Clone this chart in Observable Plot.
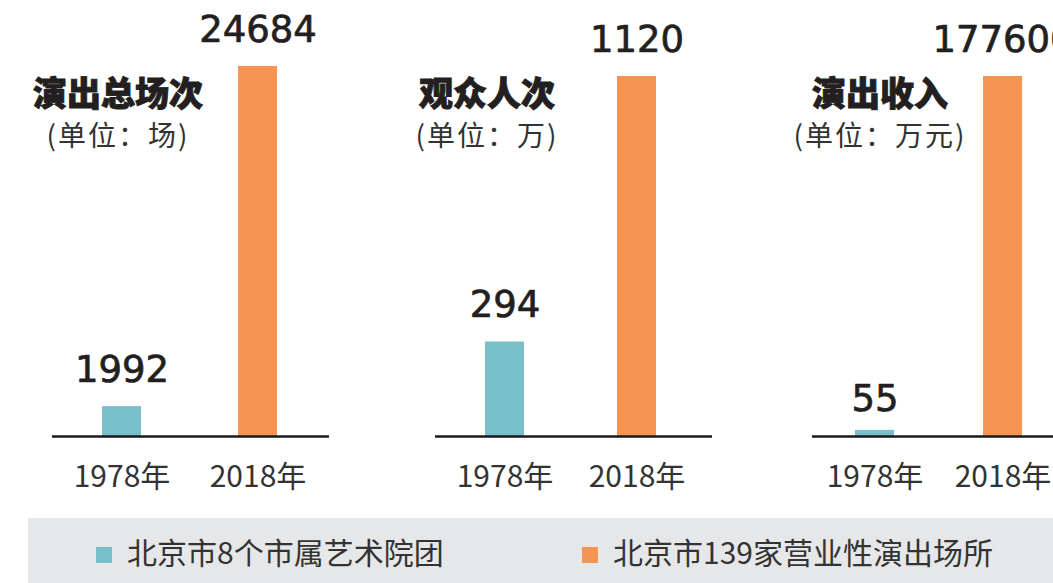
<!DOCTYPE html>
<html>
<head>
<meta charset="utf-8">
<script src="https://cdn.jsdelivr.net/npm/d3@7"></script>
<script src="https://cdn.jsdelivr.net/npm/@observablehq/plot@0.6"></script>
<style>
  html, body { margin: 0; padding: 0; background: #fff; }
  #wrap { position: relative; width: 1053px; height: 583px; overflow: hidden; background: #fff; }
  .panel { position: absolute; top: 0; }
  .title { position: absolute; width: 260px; text-align: center; font-family: "Noto Sans CJK SC", sans-serif; color: #231f20; line-height: 1; }
  .t1 { font-size: 34px; font-weight: 900; -webkit-text-stroke: 0.9px #231f20; top: 75px; }
  .t2 { font-size: 28px; font-weight: 400; color: #333; top: 120px; letter-spacing: 2px; }
  #legend { position: absolute; left: 28px; top: 518px; width: 1025px; height: 65px; background: #e6e7e9; }
  .sw { position: absolute; top: 29px; width: 16px; height: 16px; }
  .lt { position: absolute; top: 14px; font-family: "Noto Sans CJK SC", sans-serif; font-size: 30px; line-height: 1.3; color: #333; }
</style>
</head>
<body>
<div id="wrap"></div>
<script>
// ---- data ----
const metrics = ["演出总场次", "观众人次", "演出收入"];
const units = ["(单位：场)", "(单位：万)", "(单位：万元)"];
const years = ["1978年", "2018年"];
const values1978 = [1992, 294, 55];
const values2018 = [24684, 1120, 177600];
const seriesNames = ["北京市8个市属艺术院团", "北京市139家营业性演出场所"];
const seriesColors = ["#77bfc9", "#f69553"];

// ---- layout ----
const panelLeft = [0, 383, 760];
const panelTop = [66, 76, 76];
const barStart = [102, 102, 95];   // first bar left edge, within each panel svg
const barStep = [136, 132, 128];   // distance between the two bars
const barWidth = 39;
const titleCenter = [118, 487, 880];

const wrap = document.getElementById("wrap");

metrics.forEach((m, i) => {
  const rows = [
    {year: years[0], value: values1978[i], series: seriesNames[0]},
    {year: years[1], value: values2018[i], series: seriesNames[1]}
  ];
  const maxV = d3.max(rows, d => d.value);
  const big = rows.filter(d => d.value / maxV >= 0.01);
  const tiny = rows.filter(d => d.value / maxV < 0.01);

  const chart = Plot.plot({
    width: 330,
    height: 518,
    marginLeft: 52,
    marginRight: 1,
    marginTop: panelTop[i],
    marginBottom: 82,
    style: {background: "transparent", overflow: "visible"},
    x: {type: "band", domain: years, range: [barStart[i], barStart[i] + barStep[i] + barWidth],
        paddingInner: 1 - barWidth / barStep[i], paddingOuter: 0, label: null},
    y: {domain: [0, maxV], nice: false, axis: null},
    color: {domain: seriesNames, range: seriesColors},
    marks: [
      Plot.barY(big, {x: "year", y: "value", fill: "series"}),
      Plot.barY(tiny, {x: "year", y: "value", fill: "series", insetTop: -6}),
      Plot.ruleY([0], {stroke: "#1a1a1a", strokeWidth: 2.4}),
      Plot.text(rows, {x: "year", y: "value", text: d => String(d.value), lineAnchor: "bottom",
        fontSize: 37, fill: "#231f20", stroke: "#231f20", strokeWidth: 0.7,
        fontFamily: "DejaVu Sans", dy: -25}),
      Plot.axisX({tickSize: 0, tickPadding: 29, fontSize: 30, fontFamily: "Noto Sans CJK SC",
        fill: "#333", label: null})
    ]
  });
  chart.classList.add("panel");
  chart.style.left = panelLeft[i] + "px";
  wrap.appendChild(chart);

  const t = document.createElement("div");
  t.className = "title t1";
  t.textContent = m;
  t.style.left = (titleCenter[i] - 130) + "px";
  wrap.appendChild(t);
  const u = document.createElement("div");
  u.className = "title t2";
  u.textContent = units[i];
  u.style.left = (titleCenter[i] - 130) + "px";
  wrap.appendChild(u);
});

// legend
const legend = document.createElement("div");
legend.id = "legend";
const swX = [68, 554], txX = [99, 585];
seriesNames.forEach((s, i) => {
  const sw = document.createElement("div");
  sw.className = "sw";
  sw.style.left = swX[i] + "px";
  sw.style.background = seriesColors[i];
  legend.appendChild(sw);
  const lt = document.createElement("div");
  lt.className = "lt";
  lt.style.left = txX[i] + "px";
  lt.textContent = s;
  legend.appendChild(lt);
});
wrap.appendChild(legend);
</script>
</body>
</html>
